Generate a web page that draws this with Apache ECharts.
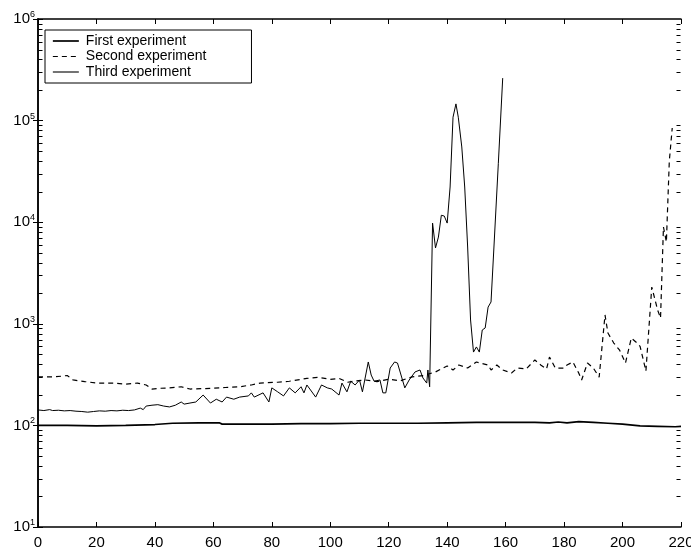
<!DOCTYPE html>
<html>
<head>
<meta charset="utf-8">
<script src="https://cdn.jsdelivr.net/npm/echarts@6/dist/echarts.min.js"></script>
<style>
	html, body { margin: 0; padding: 0; background: #fff; }
	#chart { width: 691px; height: 547px; }
</style>
</head>
<body>
<div id="chart"></div>
<script>
// First experiment
const x1 = [0, 10, 20, 30, 40, 46, 55, 62, 63, 70, 80, 90, 100, 110, 120, 130, 140, 150, 160, 170, 175, 178, 181, 185, 190, 195, 200, 206, 212, 218, 220]
const y1 = [100, 100, 99, 100, 102, 105, 106, 106, 103, 103, 103, 104, 104, 105, 105, 105, 106, 107, 107, 107, 106, 108, 106, 109, 107, 105, 103, 99, 98, 97, 98]

// Second experiment
const x2 = [0, 5, 8, 10, 12, 16, 20, 26, 30, 34,
	37, 39, 42, 45, 49, 52, 56, 60, 64, 69,
	73, 76, 82, 86, 92, 96, 100, 103, 106, 108,
	112, 116, 120, 124, 128, 132, 136, 140, 142, 144,
	147, 150, 154, 155, 157, 159, 162, 164, 167, 170,
	172, 174, 175, 177, 180, 181, 183, 185, 186, 188,
	190, 192, 194, 195, 197, 199, 201, 203, 205, 206,
	208, 210, 212, 213, 214, 215, 216, 217]
const y2 = [300, 300, 305, 310, 280, 270, 261, 261, 255, 261,
	250, 228, 232, 234, 240, 228, 230, 232, 236, 240,
	250, 261, 266, 272, 290, 297, 284, 290, 266, 272,
	280, 270, 285, 275, 300, 310, 336, 385, 351, 393,
	367, 421, 393, 351, 393, 351, 328, 367, 359, 441,
	393, 359, 471, 367, 367, 393, 421, 328, 280, 411,
	367, 299, 1222, 811, 647, 550, 411, 724, 647, 600,
	343, 2301, 1368, 1140, 8970, 6390, 40000, 84500]

// Third experiment
const x3 = [0, 2, 4, 5, 7, 9, 11, 13, 15, 17,
	19, 21, 23, 25, 27, 29, 31, 33, 35, 36,
	37, 39, 41, 43, 45, 47, 49, 50, 52, 54,
	56.5, 59, 61, 63, 64.5, 67, 69, 72, 73, 74,
	77, 79, 80, 82, 84, 86, 88, 90, 91, 92,
	95, 97, 99, 100.5, 103, 104, 105.7, 107, 108.5, 110,
	111, 113, 114, 115, 117, 118, 119, 120.5, 122, 123,
	124.5, 125.5, 127, 129, 130.7, 131.7, 133, 133.4, 134, 135,
	136, 137, 138, 139, 140, 141, 142, 143, 143.8, 145,
	146, 147, 148, 149, 150, 151, 152, 153, 154, 155,
	156, 157.5, 159]
const y3 = [142, 140, 143, 140, 141, 139, 140, 138, 137, 135,
	137, 139, 138, 140, 139, 141, 140, 142, 148, 143,
	155, 158, 160, 155, 152, 158, 170, 162, 166, 170,
	199, 166, 181, 170, 190, 181, 190, 195, 209, 190,
	209, 170, 234, 214, 195, 234, 209, 240, 209, 250,
	190, 250, 234, 228, 199, 261, 214, 272, 250, 280,
	214, 421, 313, 272, 280, 209, 209, 367, 421, 411,
	293, 234, 280, 336, 351, 293, 261, 351, 240, 9800,
	5580, 7140, 11700, 11500, 9800, 22200, 108000, 146000, 108000, 55000,
	22200, 5700, 1090, 527, 592, 527, 869, 910, 1460, 1640,
	5700, 38000, 262000]

const seriesNames = ['First experiment', 'Second experiment', 'Third experiment']
const lineWidths = [1.7, 1.2, 1]
const legendWidths = [1.7, 1.2, 1.1]
const xMin = 0
const xMax = 220
const xStep = 20
const yMin = 10
const yMax = 1000000

// minor log ticks (2..9 in every decade)
const minorTicks = []
for (let d = yMin; d < yMax; d *= 10) {
	for (let k = 2; k <= 9; k++) minorTicks.push(d * k)
}

const pairs = (xs, ys) => xs.map((x, i) => [x, ys[i]])

const fontFamily = '"Liberation Sans", Arial, Helvetica, sans-serif'
const axisLine = () => ({ show: true, lineStyle: { color: '#000', width: 1.5 } })
const majorTick = () => ({ show: true, inside: true, length: 5, lineStyle: { color: '#000', width: 1 } })

const chart = echarts.init(document.getElementById('chart'))

chart.setOption({
	animation: false,
	backgroundColor: '#fff',
	textStyle: { fontFamily: fontFamily },
	grid: { left: 38, right: 10, top: 19, bottom: 20, containLabel: false, outerBoundsMode: 'none' },
	legend: {
		data: seriesNames.map((name, i) => ({ name: name, lineStyle: { width: legendWidths[i], color: '#000' } })),
		orient: 'vertical',
		left: 45,
		top: 30,
		padding: [4, 45, 4, 7],
		itemWidth: 26,
		itemHeight: 14,
		itemGap: 1.5,
		itemStyle: { opacity: 0 },
		backgroundColor: '#fff',
		borderColor: '#000',
		borderWidth: 1,
		borderRadius: 0,
		textStyle: { fontSize: 14, color: '#000', fontFamily: fontFamily, padding: [0, 0, 0, 2] }
	},
	xAxis: [{
		type: 'value',
		min: xMin,
		max: xMax,
		interval: xStep,
		axisLine: axisLine(),
		axisTick: majorTick(),
		axisLabel: { fontSize: 15, color: '#000', margin: 8, showMaxLabel: true, alignMaxLabel: 'center', alignMinLabel: 'center' },
		splitLine: { show: false }
	}, {
		type: 'value',
		position: 'top',
		min: xMin,
		max: xMax,
		interval: xStep,
		axisLine: axisLine(),
		axisTick: majorTick(),
		axisLabel: { show: false },
		splitLine: { show: false }
	}],
	yAxis: [{
		type: 'log',
		logBase: 10,
		min: yMin,
		max: yMax,
		axisLine: axisLine(),
		axisTick: majorTick(),
		axisLabel: {
			margin: 3,
			color: '#000',
			formatter: v => '{b|10}{e|' + Math.round(Math.log10(v)) + '}',
			rich: {
				b: { fontSize: 15, color: '#000', fontFamily: fontFamily },
				e: { fontSize: 9, color: '#000', fontFamily: fontFamily, padding: [0, 0, 9, 0] }
			}
		},
		splitLine: { show: false }
	}, {
		type: 'log',
		logBase: 10,
		position: 'right',
		min: yMin,
		max: yMax,
		axisLine: axisLine(),
		axisTick: majorTick(),
		axisLabel: { show: false },
		splitLine: { show: false }
	}],
	series: [{
		name: seriesNames[0],
		type: 'line',
		data: pairs(x1, y1),
		symbol: 'none',
		lineStyle: { color: '#000', width: lineWidths[0] },
		itemStyle: { color: '#000' },
		z: 5
	}, {
		name: seriesNames[1],
		type: 'line',
		data: pairs(x2, y2),
		symbol: 'none',
		lineStyle: { color: '#000', width: lineWidths[1], type: [5, 4] },
		itemStyle: { color: '#000' },
		z: 4
	}, {
		name: seriesNames[2],
		type: 'line',
		data: pairs(x3, y3),
		symbol: 'none',
		lineStyle: { color: '#000', width: lineWidths[2] },
		itemStyle: { color: '#000' },
		z: 3
	}, {
		// minor log ticks on both sides of the box, on their own layer
		type: 'custom',
		silent: true,
		clip: false,
		zlevel: 1,
		z: 100,
		data: minorTicks.map(v => [xMax / 2, v]),
		renderItem: (params, api) => {
			const l = api.coord([xMin, api.value(1)])
			const r = api.coord([xMax, api.value(1)])
			const y = Math.round(l[1]) + 0.5
			const style = { stroke: '#000', lineWidth: 1 }
			return {
				type: 'group',
				children: [
					{ type: 'line', shape: { x1: l[0] + 0.5, y1: y, x2: l[0] + 4.5, y2: y }, style: style },
					{ type: 'line', shape: { x1: r[0] - 0.5, y1: y, x2: r[0] - 4.5, y2: y }, style: style }
				]
			}
		}
	}]
})
</script>
</body>
</html>
